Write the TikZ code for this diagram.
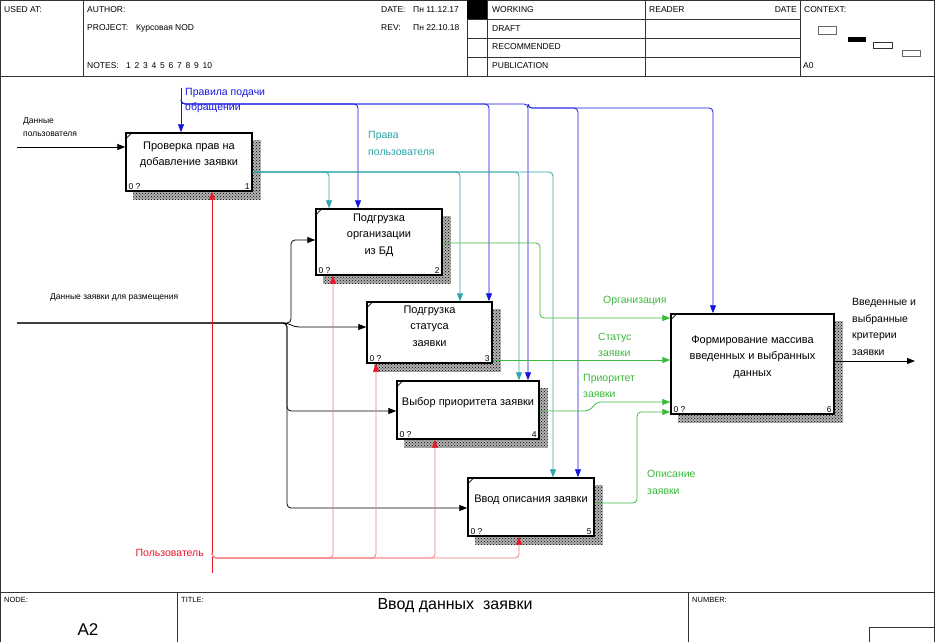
\documentclass[tikz,border=0pt]{standalone}
\usepackage{fontspec}
\setmainfont{Liberation Sans}
\usetikzlibrary{arrows.meta,patterns,backgrounds}
\definecolor{idblue}{RGB}{20,20,225}
\definecolor{idteal}{RGB}{45,165,170}
\definecolor{idgreen}{RGB}{60,185,60}
\definecolor{idred}{RGB}{235,20,40}
\definecolor{idpink}{RGB}{240,125,125}
\begin{document}
\begin{tikzpicture}[x=1pt,y=-1pt,
  fr/.style={draw=black!80, line width=0.8pt},
  hdr/.style={font=\fontsize{8.5}{10}\selectfont, anchor=west, inner sep=0pt},
  box/.style={draw, line width=1.4pt, fill=white, inner sep=0pt},
  shadebg/.style={fill=black!30},
  shade/.style={pattern=crosshatch dots, pattern color=black},
  btext/.style={font=\fontsize{11}{16.5}\selectfont, align=center, inner sep=0pt},
  bnum/.style={font=\fontsize{8.5}{10}\selectfont, inner sep=0pt},
  lab/.style={font=\fontsize{10.5}{16.5}\selectfont, align=left, inner sep=0pt, anchor=west},
  slab/.style={font=\fontsize{8.5}{13}\selectfont, align=left, inner sep=0pt, anchor=west},
  arr/.style={line width=0.8pt, -{Triangle[length=8pt,width=6pt]}, rounded corners=4pt},
  marr/.style={line width=0.8pt, draw=idpink, -{Triangle[length=8pt,width=6pt,color=idred]}, rounded corners=4pt},
]
\useasboundingbox (0,0) rectangle (935,642);
% ---------- frame ----------
\draw[fr] (0.5,642) -- (0.5,0.5) -- (934.5,0.5) -- (934.5,642);
\draw[fr] (0,76) -- (935,76);
\draw[fr] (83,0) -- (83,76);
\draw[fr] (467,0) -- (467,76);
\draw[fr] (487,0) -- (487,76);
\draw[fr] (645,0) -- (645,76);
\draw[fr] (800,0) -- (800,76);
\draw[fr] (467,19) -- (800,19);
\draw[fr] (467,38) -- (800,38);
\draw[fr] (467,57) -- (800,57);
\fill (467,0) rectangle (487,19);
\node[hdr] (usedat) at (4,10) {USED AT:};
\node[hdr] (author) at (87,10) {AUTHOR:};
\node[hdr] (project) at (87,28) {PROJECT:};
\node[hdr] (projname) at (136,28) {Курсовая NOD};
\node[hdr] (notes) at (87,66) {NOTES:};
\node[hdr] (notenums) at (126,66) {1\, 2\, 3\, 4\, 5\, 6\, 7\, 8\, 9\, 10};
\node[hdr] (date) at (381,10) {DATE:};
\node[hdr] (dateval) at (413,10) {Пн 11.12.17};
\node[hdr] (rev) at (381,28) {REV:};
\node[hdr] (revval) at (413,28) {Пн 22.10.18};
\node[hdr] (working) at (492,10) {WORKING};
\node[hdr] (draft) at (492,29) {DRAFT};
\node[hdr] (recom) at (492,47) {RECOMMENDED};
\node[hdr] (publ) at (492,66) {PUBLICATION};
\node[hdr] (reader) at (649,10) {READER};
\node[hdr, anchor=east] (rdate) at (797,10) {DATE};
\node[hdr] (context) at (804,10) {CONTEXT:};
\node[hdr] (azero) at (803,66) {A0};
\draw[black!60, line width=0.8pt] (818,26) rectangle (836,34);
\fill (848,37) rectangle (866,42);
\draw[black!80, line width=0.8pt] (873,42) rectangle (892,48);
\draw[black!60, line width=0.8pt] (902,50) rectangle (920,56);
% footer
\draw[fr] (0,592) -- (935,592);
\draw[fr] (177,592) -- (177,642);
\draw[fr] (688,592) -- (688,642);
\draw[fr] (869,642) -- (869,627) -- (935,627);
\node[hdr, font=\fontsize{7.5}{9}\selectfont] (nodelbl) at (4,600) {NODE:};
\node[hdr, font=\fontsize{7.5}{9}\selectfont] (titlelbl) at (181,600) {TITLE:};
\node[hdr, font=\fontsize{7.5}{9}\selectfont] (numlbl) at (692,600) {NUMBER:};
\node[inner sep=0pt, font=\fontsize{16}{18}\selectfont] (title) at (455,606) {Ввод данных\ \ заявки};
\node[inner sep=0pt, font=\fontsize{17}{19}\selectfont] (nodeid) at (88,630) {A2};
% ---------- boxes ----------
\node[box, minimum width=126pt, minimum height=58pt] (b1) at (189,162) {};
\node[box, minimum width=126pt, minimum height=66pt] (b2) at (379,242) {};
\node[box, minimum width=125pt, minimum height=61pt] (b3) at (429.5,332.5) {};
\node[box, minimum width=142pt, minimum height=58pt] (b4) at (468,410) {};
\node[box, minimum width=126pt, minimum height=58pt] (b5) at (531,507) {};
\node[box, minimum width=163pt, minimum height=100pt] (b6) at (752.5,364) {};
\begin{scope}[on background layer]
\foreach \b in {b1,b2,b3,b4,b5,b6}{
  \fill[shadebg] ([shift={(8pt,-8pt)}]\b.north west) rectangle ([shift={(8pt,-8pt)}]\b.south east);
  \fill[shade] ([shift={(8pt,-8pt)}]\b.north west) rectangle ([shift={(8pt,-8pt)}]\b.south east);
}
\end{scope}
\foreach \b/\n in {b1/1,b2/2,b3/3,b4/4,b5/5,b6/6}{
  \draw[line width=0.8pt] ([yshift=-7pt]\b.north west) -- ([xshift=7pt]\b.north west);
  \node[bnum, anchor=south west] at ([shift={(3pt,2pt)}]\b.south west) {0 ?};
  \node[bnum, anchor=south east] at ([shift={(-3pt,2pt)}]\b.south east) {\n};
}
\node[btext] (t1) at ([yshift=7pt]b1.center) {Проверка прав на\\добавление заявки};
\node[btext] (t2) at ([yshift=7pt]b2.center) {Подгрузка\\организации\\из БД};
\node[btext] (t3) at ([yshift=6.5pt]b3.center) {Подгрузка\\статуса\\заявки};
\node[btext] (t4) at ([yshift=7pt]b4.center) {Выбор приоритета заявки};
\node[btext] (t5) at ([yshift=7pt]b5.center) {Ввод описания заявки};
\node[btext] (t6) at ([yshift=7pt]b6.center) {Формирование массива\\введенных и выбранных\\данных};
% ---------- inputs ----------
\coordinate (i1) at (17,147);
\draw[arr] (i1) -- (i1 -| b1.west);
\node[slab] (li1) at (23,127) {Данные\\пользователя};
\coordinate (i2) at (17,323);
\coordinate (fk) at (283,323);
\draw[line width=1.1pt, black!75] (i2) -- (fk);
\draw[arr] (fk) -- (291,323) -- (291,240) -- (b2.west |- 0,240);
\draw[arr, rounded corners=0pt] (fk) to[out=0,in=180] (299,327) -- (b3.west |- 0,327);
\draw[arr] (fk) -- (287,323) -- (287,411) -- (b4.west |- 0,411);
\draw[arr] (fk) -- (287,323) -- (287,508) -- (b5.west |- 0,508);
\node[slab] (li2) at (50,297) {Данные заявки для размещения};
% ---------- controls (blue) ----------
\coordinate (c1) at (181,88);
\draw[arr, idblue] (c1) -- (c1 |- b1.north);
\draw[arr, idblue] (181,100) -- (181,104) -- (358,104) -- (358,0 |- b2.north);
\draw[arr, idblue] (181,100) -- (181,104) -- (489,104) -- (489,0 |- b3.north);
\draw[arr, idblue] (181,100) -- (181,104) -- (528,104) -- (528,0 |- b4.north);
\draw[arr, idblue] (528,104) -- (528,108) -- (578,108) -- (578,0 |- b5.north);
\draw[arr, idblue] (528,104) -- (528,108) -- (713,108) -- (713,0 |- b6.north);
\node[lab, text=idblue, font=\fontsize{10.5}{15.5}\selectfont] (lc1) at (185,100.5) {Правила подачи\\обращении};
% ---------- controls (teal, output of box 1) ----------
\draw[arr, idteal] (b1.east |- 0,172) -- (329,172) -- (329,0 |- b2.north);
\draw[arr, idteal] (b1.east |- 0,172) -- (460,172) -- (460,0 |- b3.north);
\draw[arr, idteal] (b1.east |- 0,172) -- (519,172) -- (519,0 |- b4.north);
\draw[arr, idteal] (b1.east |- 0,172) -- (553,172) -- (553,0 |- b5.north);
\node[lab, text=idteal] (lc2) at (368,143.5) {Права\\пользователя};
% ---------- mechanism (red) ----------
\coordinate (m) at (212,573);
\draw[arr, idred] (m) -- (m |- b1.south);
\draw[marr] (212,553) -- (212,558) -- (333,558) -- (333,0 |- b2.south);
\draw[marr] (212,553) -- (212,558) -- (376,558) -- (376,0 |- b3.south);
\draw[marr] (212,553) -- (212,558) -- (435,558) -- (435,0 |- b4.south);
\draw[marr] (212,553) -- (212,558) -- (519,558) -- (519,0 |- b5.south);
\node[lab, text=idred, anchor=east] (lm) at (204,553) {Пользователь};
% ---------- outputs (green) ----------
\draw[arr, idgreen] (b2.east |- 0,243) -- (540,243) -- (540,318) -- (b6.west |- 0,318);
\draw[arr, idgreen] (b3.east |- 0,360) -- (b6.west |- 0,360);
\draw[arr, idgreen] (b4.east |- 0,411) -- (589,411) -- (597,402) -- (b6.west |- 0,402);
\draw[arr, idgreen] (b5.east |- 0,503) -- (637,503) -- (637,412) -- (b6.west |- 0,412);
\node[lab, text=idgreen] (lo2) at (603,301) {Организация};
\node[lab, text=idgreen] (lo3) at (598,345) {Статус\\заявки};
\node[lab, text=idgreen] (lo4) at (583,386) {Приоритет\\заявки};
\node[lab, text=idgreen] (lo5) at (647,482.5) {Описание\\заявки};
% ---------- final output ----------
\coordinate (o6) at (915,361);
\draw[arr] (b6.east |- o6) -- (o6);
\node[lab] (lo6) at (852,327) {Введенные и\\выбранные\\критерии\\заявки};
\end{tikzpicture}
\end{document}
